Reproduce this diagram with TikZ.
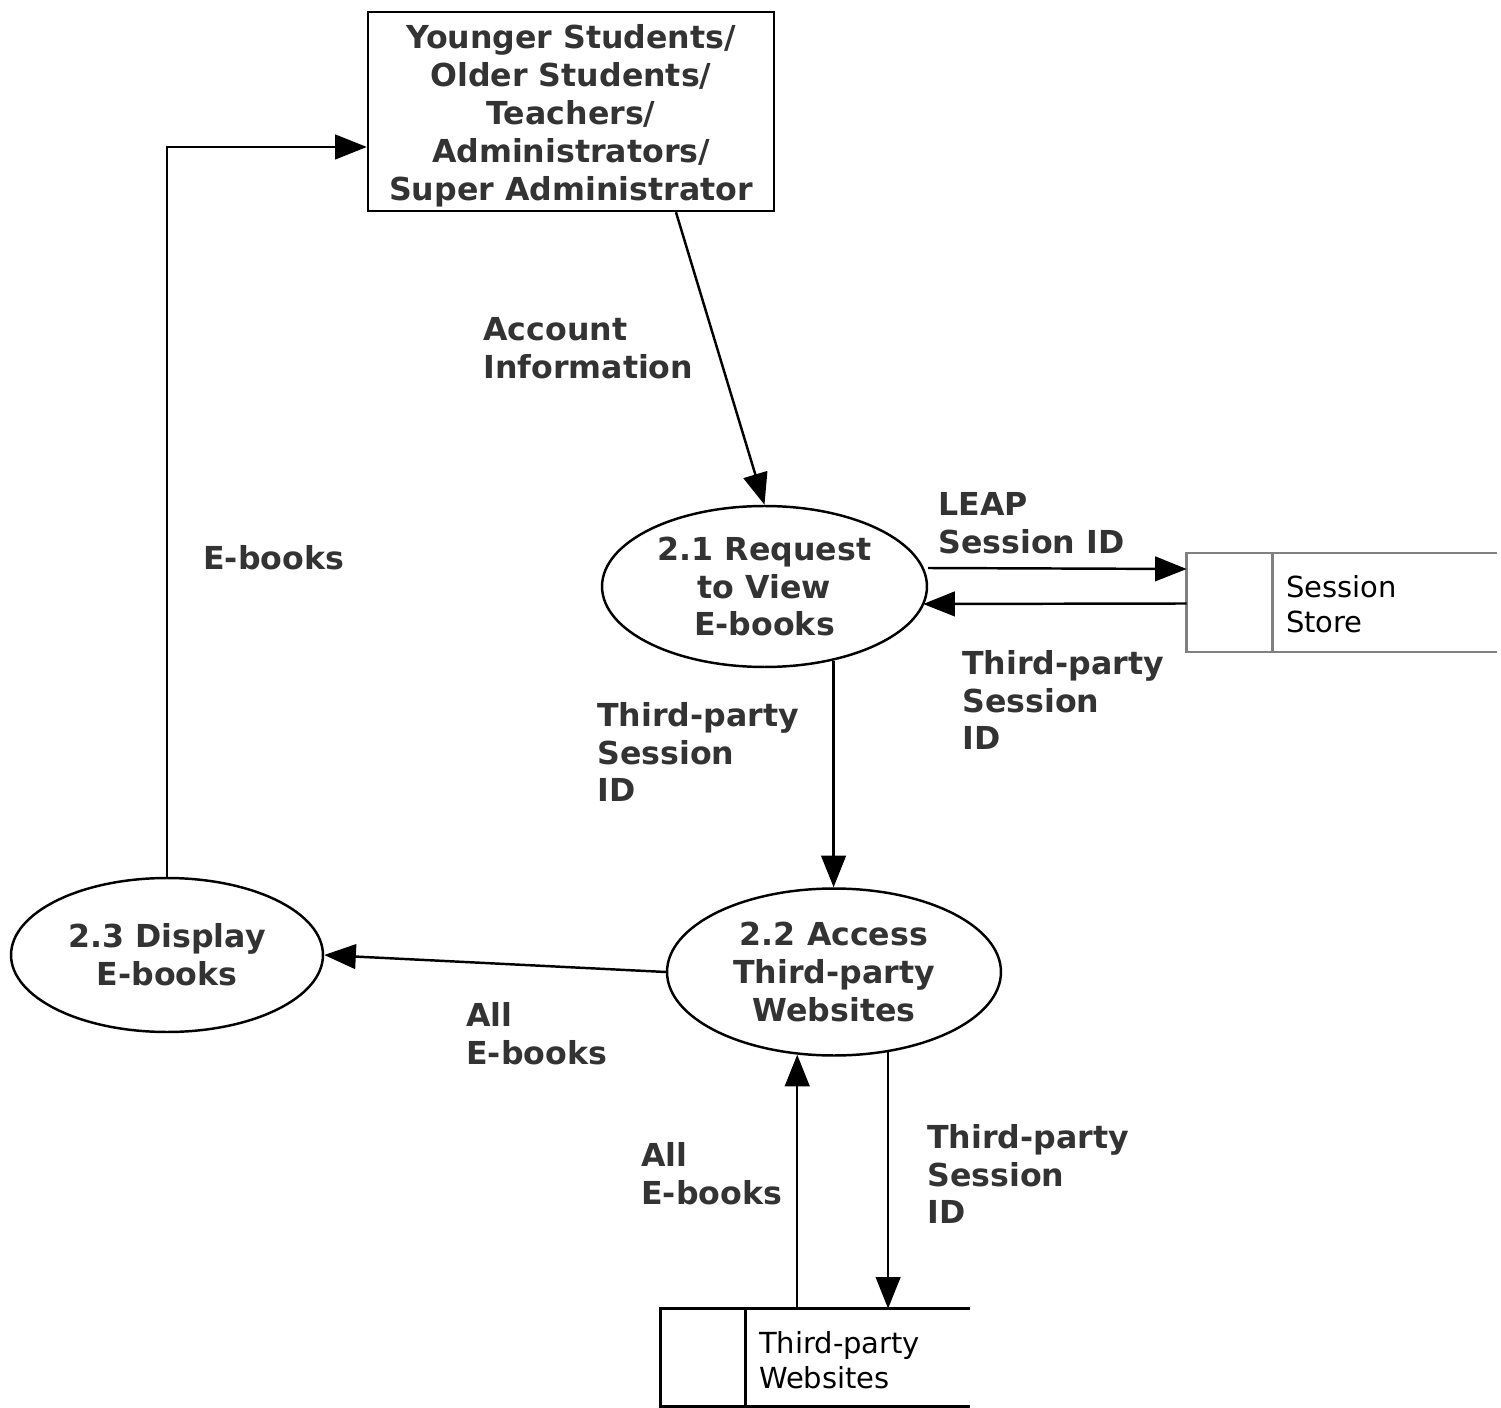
\documentclass[tikz,border=0pt]{standalone}
\usepackage{fontspec}
\setmainfont{DejaVu Sans}
\usepackage{xcolor}
\usetikzlibrary{shapes.geometric}
\usetikzlibrary{arrows.meta}
\usetikzlibrary{positioning}
\definecolor{labelgray}{HTML}{333333}
\definecolor{storegray}{HTML}{808080}

\begin{document}
\begin{tikzpicture}[x=0.02cm,y=-0.02cm]
\tikzset{process/.style={ellipse,draw,line width=1.4pt,inner sep=0pt,align=center,text=labelgray,font=\bfseries\fontsize{18}{21.5}\selectfont},
entity/.style={rectangle,draw,line width=1.4pt,inner ysep=0pt,minimum width=8.12cm,minimum height=3.98cm,align=center,text=labelgray,font=\bfseries\fontsize{18}{21.5}\selectfont},
datastore/.style={rectangle,minimum width=6.2cm,minimum height=1.96cm,inner sep=0pt},
storetext/.style={anchor=west,align=left,inner sep=0pt,font=\fontsize{16.5}{19.8}\selectfont},
flowlabel/.style={anchor=north west,align=left,inner sep=0pt,text=labelgray,font=\bfseries\fontsize{18}{21.5}\selectfont},
flowarrow/.style={line width=1.4pt,-{Triangle[length=18pt,width=14pt]}}}
\useasboundingbox (0,0) rectangle (1501,1408);
\node[entity](e) at (571,111.5){\rule{0pt}{18.5pt}Younger Students/\\Older Students/\\Teachers/\\Administrators/\\Super Administrator};
\node[process,minimum width=6.5cm,minimum height=3.22cm](a) at (764.5,586.5){2.1 Request\\to View\\E-books};
\node[process,minimum width=6.68cm,minimum height=3.34cm](b) at (834,972){2.2 Access\\Third-party\\Websites};
\node[process,minimum width=6.24cm,minimum height=3.08cm](c) at (167,955){2.3 Display\\E-books};
\node[datastore](s) at (1342,602.5){};
\draw[storegray,line width=1.4pt](s.north east) -- (s.north west) -- (s.south west) -- (s.south east);
\draw[storegray,line width=1.4pt]([xshift=1.72cm]s.north west) -- ([xshift=1.72cm]s.south west);
\node[storetext](st) at ([xshift=1.98cm,yshift=-0.04cm]s.west){Session\\Store};
\node[datastore,minimum width=6.18cm,minimum height=1.94cm](w) at (815.5,1357.5){};
\draw[line width=1.4pt](w.north east) -- (w.north west) -- (w.south west) -- (w.south east);
\draw[line width=1.4pt]([xshift=1.7cm]w.north west) -- ([xshift=1.7cm]w.south west);
\node[storetext](wt) at ([xshift=1.96cm,yshift=-0.05cm]w.west){Third-party\\Websites};
% flows
\draw[flowarrow]([xshift=2.1cm]e.south) -- (a.north);
\draw[flowarrow](c.north) |- ([yshift=-0.71cm]e.west);
\draw[flowarrow]([yshift=0.37cm]a.east) -- ([yshift=0.67cm]s.west);
\draw[flowarrow]([yshift=-0.02cm]s.west) -- ([xshift=-0.1cm,yshift=-0.35cm]a.east);
\draw[flowarrow](a.-47) -- (a.-47 |- b.north);
\draw[flowarrow](b.west) -- (c.east);
\draw[flowarrow](w.north -| b.-114) -- (b.-114);
\draw[flowarrow](b.-56.7) -- (b.-56.7 |- w.north);
% labels
\node[flowlabel](l1) at (483,317){Account\\Information};
\node[flowlabel](l2) at (203,545){E-books};
\node[flowlabel](l3) at (938,492){LEAP\\Session ID};
\node[flowlabel](l4) at (962,650){Third-party\\Session\\ID};
\node[flowlabel](l5) at (597,702){Third-party\\Session\\ID};
\node[flowlabel](l6) at (466,1002){All\\E-books};
\node[flowlabel](l7) at (641,1142){All\\E-books};
\node[flowlabel](l8) at (927,1124){Third-party\\Session\\ID};
\end{tikzpicture}
\end{document}
